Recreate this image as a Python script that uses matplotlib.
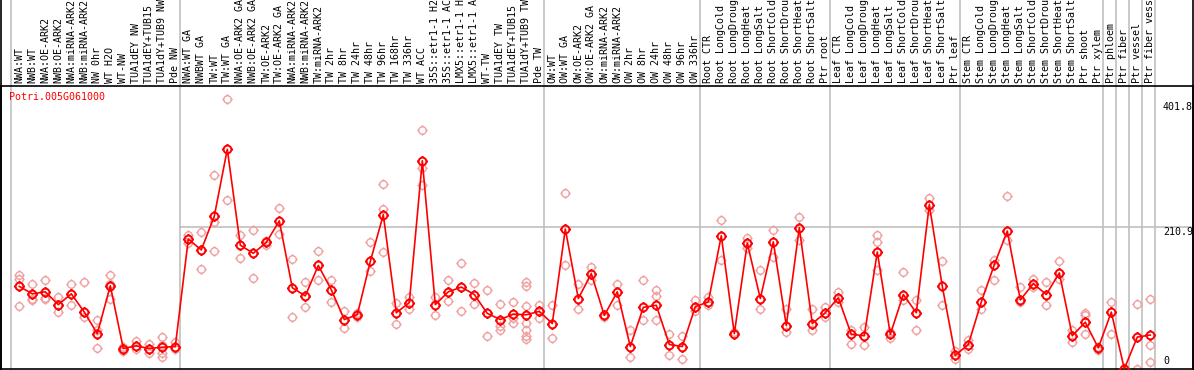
import matplotlib
matplotlib.use('Agg')
import matplotlib.pyplot as plt
import numpy as np
from matplotlib.path import Path
from matplotlib.lines import Line2D
from matplotlib.transforms import blended_transform_factory, offset_copy

gene = 'Potri.005G061000'

labels = [
    'NWA:WT', 'NWB:WT', 'NWA:OE-ARK2', 'NWB:OE-ARK2', 'NWA:miRNA-ARK2', 'NWB:miRNA-ARK2',
    'NW 0hr', 'WT H2O', 'WT-NW', 'TUA1dEY NW', 'TUA1dEY+TUB15 NW', 'TUA1dY+TUB9 NW', 'Pde NW',
    'NWA:WT GA', 'NWBWT GA', 'TW:WT', 'TW:WT GA', 'NWA:OE-ARK2 GA', 'NWB:OE-ARK2 GA',
    'TW:OE-ARK2', 'TW:OE-ARK2 GA', 'NWA:miRNA-ARK2', 'NWB:miRNA-ARK2', 'TW:miRNA-ARK2',
    'TW 2hr', 'TW 8hr', 'TW 24hr', 'TW 48hr', 'TW 96hr', 'TW 168hr', 'TW 336hr', 'WT ACC',
    '35S::etr1-1 H2O', '35S::etr1-1 ACC', 'LMX5::etr1-1 H2O', 'LMX5::etr1-1 ACC', 'WT-TW',
    'TUA1dEY TW', 'TUA1dEY+TUB15 TW', 'TUA1dY+TUB9 TW', 'Pde TW',
    'OW:WT', 'OW:WT GA', 'OW:OE-ARK2', 'OW:OE-ARK2 GA', 'OW:miRNA-ARK2', 'OW:miRNA-ARK2',
    'OW 2hr', 'OW 8hr', 'OW 24hr', 'OW 48hr', 'OW 96hr', 'OW 336hr',
    'Root CTR', 'Root LongCold', 'Root LongDrought', 'Root LongHeat', 'Root LongSalt',
    'Root ShortCold', 'Root ShortDrought', 'Root ShortHeat', 'Root ShortSalt', 'Ptr root',
    'Leaf CTR', 'Leaf LongCold', 'Leaf LongDrought', 'Leaf LongHeat', 'Leaf LongSalt',
    'Leaf ShortCold', 'Leaf ShortDrought', 'Leaf ShortHeat', 'Leaf ShortSalt', 'Ptr leaf',
    'Stem CTR', 'Stem LongCold', 'Stem LongDrought', 'Stem LongHeat', 'Stem LongSalt',
    'Stem ShortCold', 'Stem ShortDrought', 'Stem ShortHeat', 'Stem ShortSalt', 'Ptr shoot',
    'Ptr xylem', 'Ptr phloem', 'Ptr fiber', 'Ptr vessel', 'Ptr fiber vessel',
]

# index of last sample in each block (a grey line follows it)
group_ends = [12, 40, 52, 62, 72, 83, 84, 85, 86, 87]

means = [
    123, 112, 115, 96, 112, 85, 53, 124, 31, 35, 31, 33, 34,
    193, 177, 227, 326, 184, 172, 188, 220, 121, 109, 154, 118, 74, 81, 160, 229,
    84, 99, 309, 96, 115, 122, 111, 83, 74, 82, 81, 86,
    68, 208, 105, 142, 80, 115, 34, 92, 95, 37, 34, 93,
    100, 198, 53, 187, 105, 189, 65, 210, 68, 84,
    106, 52, 50, 174, 52, 111, 84, 244, 123, 21,
    37, 100, 155, 205, 103, 127, 111, 143, 50, 70, 32,
    85, 1, 48, 51,
]

reps = [
    [140, 134, 94], [127, 103, 104], [132, 106, 104], [107, 85], [127, 96], [130, 78],
    [74, 58, 32], [140, 127, 105], [33, 28], [42, 30], [38, 25], [48, 37, 25, 19], [40, 30],
    [199, 187], [203, 149], [288, 218, 175], [401, 251], [199, 165], [207, 135], [190, 184],
    [239, 201], [164, 77], [130, 92], [176, 132], [132, 100], [86, 62], [84, 78], [188, 146],
    [275, 238, 174], [99, 68], [107, 90], [354, 298, 273], [107, 80], [133, 102], [158, 87],
    [128, 97], [117, 50], [97, 64, 58], [100, 76, 69], [129, 123, 94, 69, 59, 49, 45], [96, 76],
    [96, 47], [261, 155], [126, 89], [152, 133], [81, 77], [126, 96], [59, 18], [133, 74],
    [118, 109, 74], [52, 22], [50, 15], [103, 86],
    [107, 96], [221, 162], [56], [195, 180], [148, 89], [207, 166], [89, 55], [225, 192],
    [89, 59], [92, 77],
    [115, 100], [59, 38], [63, 37], [199, 189, 148], [56, 47], [145, 103], [103, 59],
    [254, 236], [160, 96], [27, 15],
    [44, 30], [118, 89], [162, 133], [257, 192], [122, 100], [134, 122], [129, 96],
    [160, 134], [59, 40], [84, 80, 53], [33, 29],
    [100, 52], [0, 2], [97, 1], [104, 36, 11],
]

ytick_vals = [401.8, 210.9, 0]
ytick_text = ['401.8', '210.9', '0']
ytick_shift = [-9, -5, 8]   # pixel nudges of the labels

mono = 'DejaVu Sans Mono'
red = '#ff0000'
pink = '#f0a0a0'
grey = '#c0c0c0'

# circle with four little ticks
circ = Path.unit_circle()
ticks = [Path([[0, 1], [0, 1.4]]), Path([[0, -1], [0, -1.4]]),
         Path([[1, 0], [1.4, 0]]), Path([[-1, 0], [-1.4, 0]])]
mark = Path.make_compound_path(circ, *ticks)

W, H = 1194, 370
fig = plt.figure(figsize=(W / 100, H / 100), dpi=100)
ax = fig.add_axes([1 / W, 1 / H, 1192 / W, 283 / H])

x = np.arange(len(labels))
ax.set_xlim((1 - 19.3) / 13, (1193 - 19.3) / 13)
ax.set_ylim(0.74, 419.6)

for i, r in enumerate(reps):
    ax.plot([i] * len(r), r, linestyle='none', marker=mark, ms=7.5,
            mfc='none', mec=pink, mew=1.0, zorder=2)
ax.plot(x, means, color=red, lw=1.2, zorder=3)
ax.plot(x, means, linestyle='none', marker=mark, ms=7.8, mfc='none',
        mec=red, mew=1.4, zorder=4)

trans = blended_transform_factory(ax.transData, ax.transAxes)
for g in [-1] + group_ends:
    ax.plot([g + 0.385] * 2, [0, 369 / 283], color=grey, lw=1.2,
            transform=trans, clip_on=False, zorder=1)

ax.plot([group_ends[0] + 0.385, ax.get_xlim()[1]], [210.9, 210.9],
        color=grey, lw=1.2, zorder=1)

for i, lab in enumerate(labels):
    ax.text(i, (369 - 83) / 283, lab, rotation=90, ha='center', va='bottom',
            fontsize=7.2, family=mono, transform=trans, clip_on=False)

ax.text(8.5 / 1192, (369 - 97) / 283, gene, color=red, fontsize=7.2,
        family=mono, ha='left', va='center', transform=ax.transAxes)

ytrans = blended_transform_factory(ax.transAxes, ax.transData)
for v, t, s in zip(ytick_vals, ytick_text, ytick_shift):
    tr = offset_copy(ytrans, fig=fig, x=0, y=s * 72 / 100, units='points')
    ax.text(1162 / 1192, v, t, fontsize=7.2, family=mono, ha='left',
            va='center', transform=tr)

ax.set_xticks([])
ax.set_yticks([])
for sp in ax.spines.values():
    sp.set_color('black')
    sp.set_linewidth(1.2)

fig.add_artist(Line2D([1 / W, 1 / W], [0, 1], color='black', lw=1.2))
fig.add_artist(Line2D([1193 / W, 1193 / W], [0, 1], color='black', lw=1.2))

fig.savefig('out.png', dpi=100)
